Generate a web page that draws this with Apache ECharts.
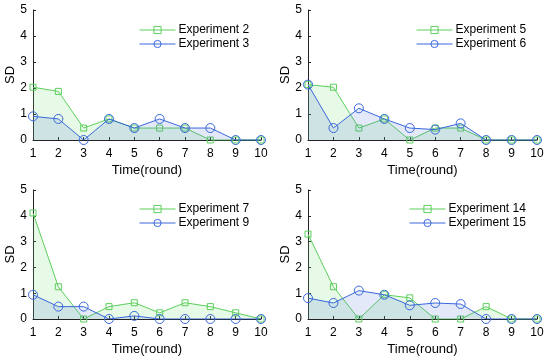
<!DOCTYPE html>
<html>
<head>
<meta charset="utf-8">
<script src="https://cdn.jsdelivr.net/npm/echarts@6/dist/echarts.min.js"></script>
<style>html,body{margin:0;padding:0;background:#fff;}#c{width:550px;height:362px;}</style>
</head>
<body>
<div id="c"></div>
<script>
const rounds = [1, 2, 3, 4, 5, 6, 7, 8, 9, 10];
const yTicks = [0, 1, 2, 3, 4, 5];

const names1 = ['Experiment 2', 'Experiment 3'];
const exp2 = [2.03, 1.87, 0.46, 0.81, 0.46, 0.46, 0.46, 0, 0, 0];
const exp3 = [0.91, 0.81, 0, 0.81, 0.46, 0.81, 0.46, 0.46, 0, 0];

const names2 = ['Experiment 5', 'Experiment 6'];
const exp5 = [2.13, 2.03, 0.46, 0.81, 0, 0.46, 0.46, 0, 0, 0];
const exp6 = [2.13, 0.46, 1.22, 0.81, 0.46, 0.40, 0.64, 0, 0, 0];

const names3 = ['Experiment 7', 'Experiment 9'];
const exp7 = [4.11, 1.25, 0, 0.48, 0.63, 0.24, 0.63, 0.48, 0.24, 0];
const exp9 = [0.94, 0.48, 0.48, 0, 0.12, 0, 0, 0, 0, 0];

const names4 = ['Experiment 14', 'Experiment 15'];
const exp14 = [3.29, 1.25, 0, 0.94, 0.82, 0, 0, 0.48, 0, 0];
const exp15 = [0.81, 0.62, 1.10, 0.94, 0.53, 0.62, 0.58, 0, 0, 0];

const panels = [
  {names: names1, g: exp2, b: exp3, grid: {left: 33, top: 10, width: 228, height: 130}, legend: {left: 139, top: 24}},
  {names: names2, g: exp5, b: exp6, grid: {left: 308, top: 10, width: 229, height: 130}, legend: {left: 416, top: 24}},
  {names: names3, g: exp7, b: exp9, grid: {left: 33, top: 190, width: 228, height: 129}, legend: {left: 139, top: 203}},
  {names: names4, g: exp14, b: exp15, grid: {left: 308, top: 190, width: 229, height: 129}, legend: {left: 409, top: 203}}
];

const GREEN = '#5ccf5c';
const BLUE = '#3a68dc';
const FONT = 'Liberation Sans, Arial, sans-serif';

const grids = [], xAxes = [], yAxes = [], series = [], legends = [];
panels.forEach((p, i) => {
  grids.push(Object.assign({containLabel: false}, p.grid));
  xAxes.push({
    type: 'value', gridIndex: i, min: 1, max: 10, interval: 1,
    name: 'Time(round)', nameLocation: 'middle', nameGap: 24,
    nameTextStyle: {fontFamily: FONT, fontSize: 13, color: '#000'},
    axisLine: {show: true, lineStyle: {color: '#222', width: 1}},
    axisTick: {show: true, inside: true, length: 3, lineStyle: {color: '#222'}},
    axisLabel: {fontFamily: FONT, fontSize: 12, color: '#000', margin: 8},
    splitLine: {show: false}
  });
  yAxes.push({
    type: 'value', gridIndex: i, min: yTicks[0], max: yTicks[yTicks.length - 1], interval: 1,
    name: 'SD', nameLocation: 'middle', nameGap: 15, nameRotate: 90,
    nameTextStyle: {fontFamily: FONT, fontSize: 13, color: '#000'},
    axisLine: {show: true, lineStyle: {color: '#222', width: 1}},
    axisTick: {show: true, inside: true, length: 3, lineStyle: {color: '#222'}},
    axisLabel: {fontFamily: FONT, fontSize: 12, color: '#000', margin: 6},
    splitLine: {show: false}
  });
  series.push({
    name: p.names[0], type: 'line', xAxisIndex: i, yAxisIndex: i,
    data: rounds.map((r, k) => [r, p.g[k]]),
    symbol: 'rect', symbolSize: 6,
    lineStyle: {color: GREEN, width: 1},
    itemStyle: {color: 'rgba(255,255,255,0)', borderColor: GREEN, borderWidth: 1},
    areaStyle: {color: 'rgba(120,220,120,0.25)', origin: 'start'},
    z: 2
  });
  series.push({
    name: p.names[1], type: 'line', xAxisIndex: i, yAxisIndex: i,
    data: rounds.map((r, k) => [r, p.b[k]]),
    symbol: 'circle', symbolSize: 9,
    lineStyle: {color: BLUE, width: 1},
    itemStyle: {color: 'rgba(255,255,255,0)', borderColor: BLUE, borderWidth: 1},
    areaStyle: {color: 'rgba(60,100,210,0.2)', origin: 'start'},
    z: 3
  });
  legends.push({
    data: p.names, orient: 'vertical', left: p.legend.left, top: p.legend.top,
    itemWidth: 36, itemHeight: 9, itemGap: 2, padding: 0,
    lineStyle: {width: 1},
    itemStyle: {borderWidth: 1},
    textStyle: {fontFamily: FONT, fontSize: 12, color: '#000', padding: [0, 0, 0, -2]},
    selectedMode: false
  });
});

const chart = echarts.init(document.getElementById('c'), null, {renderer: 'canvas'});
chart.setOption({
  animation: false,
  backgroundColor: '#fff',
  grid: grids, xAxis: xAxes, yAxis: yAxes, series: series, legend: legends
});
</script>
</body>
</html>
